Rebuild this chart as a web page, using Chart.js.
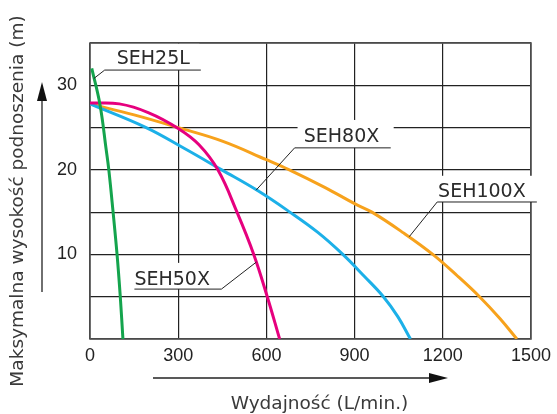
<!DOCTYPE html>
<html>
<head>
<meta charset="utf-8">
<script src="https://cdn.jsdelivr.net/npm/chart.js@4.4.1/dist/chart.umd.min.js"></script>
<style>
    html, body { margin: 0; padding: 0; background: #fff; }
    #wrap { width: 557px; height: 414px; }
</style>
</head>
<body>
<div id="wrap"><canvas id="chart" width="557" height="414"></canvas></div>
<script>
// wartości: wydajność (L/min.) i wysokość podnoszenia (m)
const seriesNames = ['SEH25L', 'SEH50X', 'SEH80X', 'SEH100X'];

const seh25lFlow = [6, 34, 55, 64, 78, 92, 103, 112];
const seh25lHead = [32, 27.7, 22.4, 20, 15.2, 10, 5, 0];

const seh50xFlow = [0, 100, 200, 300, 370, 435, 500, 557, 603, 645];
const seh50xHead = [27.9, 27.8, 26.75, 24.9, 23.0, 20, 15, 10, 5, 0];

const seh80xFlow = [0, 191, 320, 448, 570, 680, 775, 860, 932, 998, 1047, 1090];
const seh80xHead = [27.8, 25, 22.55, 20, 17.55, 15, 12.6, 10, 7.45, 5, 2.65, 0];

const seh100xFlow = [0, 150, 300, 450, 600, 678, 800, 900, 959, 1066, 1166, 1250, 1325, 1395, 1452];
const seh100xHead = [27.8, 26.5, 25.0, 23.4, 21.2, 20, 17.9, 16.0, 15, 12.55, 10, 7.45, 5, 2.4, 0];

const flowTickLabels = ['0', '300', '600', '900', '1200', '1500'];
const headTickLabels = ['10', '20', '30'];

const seriesColors = ['#14a44d', '#e6007e', '#1cb0e8', '#f7a21c'];

// opisy krzywych (w jednostkach osi): tekst, linia odniesienia, białe tło
const callouts = [
    { text: seriesNames[0], at: [91, 33.1], leader: [[13, 30.8], [50, 31.8], [377, 31.8]], box: [67, 372, 31.8, 34.9] },
    { text: seriesNames[1], at: [151, 7.0], leader: [[566, 9.1], [447, 5.9], [151, 5.9]], box: [135, 444, 5.9, 9.0] },
    { text: seriesNames[2], at: [727, 23.9], leader: [[565, 17.6], [696, 22.6], [1023, 22.6]], box: [706, 1033, 22.6, 25.9] },
    { text: seriesNames[3], at: [1184, 17.4], leader: [[1086, 12.1], [1181, 16.2], [1520, 16.2]], box: [1150, 1530, 16.2, 19.3] }
];

function toPoints(xs, ys) {
    return xs.map((x, i) => ({ x: x, y: ys[i] }));
}

const calloutPlugin = {
    id: 'callouts',
    beforeDatasetsDraw(chart) {
        const ctx = chart.ctx;
        const xs = chart.scales.x;
        const ys = chart.scales.y;
        const a = chart.chartArea;
        ctx.save();
        // ramka wykresu
        ctx.strokeStyle = '#555';
        ctx.lineWidth = 1.6;
        ctx.strokeRect(a.left, a.top, a.right - a.left, a.bottom - a.top);
        // białe tło pod opisami
        ctx.fillStyle = '#fff';
        callouts.forEach(c => {
            const x1 = xs.getPixelForValue(c.box[0]);
            const x2 = xs.getPixelForValue(c.box[1]);
            const y1 = ys.getPixelForValue(c.box[3]);
            const y2 = ys.getPixelForValue(c.box[2]);
            ctx.fillRect(x1, y1, x2 - x1, y2 - y1);
        });
        ctx.restore();
    },
    afterDatasetsDraw(chart) {
        const ctx = chart.ctx;
        const xs = chart.scales.x;
        const ys = chart.scales.y;
        ctx.save();
        ctx.strokeStyle = '#222';
        ctx.lineWidth = 1;
        ctx.fillStyle = '#2b2b2b';
        ctx.font = '19px "DejaVu Sans", sans-serif';
        ctx.textBaseline = 'middle';
        callouts.forEach(c => {
            ctx.beginPath();
            c.leader.forEach((p, i) => {
                const px = xs.getPixelForValue(p[0]);
                const py = ys.getPixelForValue(p[1]);
                if (i === 0) ctx.moveTo(px, py); else ctx.lineTo(px, py);
            });
            ctx.stroke();
            ctx.fillText(c.text, xs.getPixelForValue(c.at[0]), ys.getPixelForValue(c.at[1]));
        });
        ctx.restore();
    },
    afterDraw(chart) {
        const ctx = chart.ctx;
        const a = chart.chartArea;
        ctx.save();
        ctx.fillStyle = '#3a3a3a';
        ctx.strokeStyle = '#222';
        ctx.font = '18.5px "DejaVu Sans", sans-serif';
        ctx.textAlign = 'center';
        ctx.textBaseline = 'middle';

        // tytuł osi Y
        ctx.save();
        ctx.translate(a.left - 72, a.top + 158);
        ctx.rotate(-Math.PI / 2);
        ctx.fillText('Maksymalna wysokość podnoszenia (m)', 0, 0);
        ctx.restore();

        // tytuł osi X
        ctx.fillText('Wydajność (L/min.)', (a.left + a.right) / 2 + 9, a.bottom + 65);

        // strzałka pionowa
        ctx.lineWidth = 1.3;
        ctx.fillStyle = '#111';
        const ax = a.left - 48;
        ctx.beginPath();
        ctx.moveTo(ax, a.bottom - 47);
        ctx.lineTo(ax, a.top + 55);
        ctx.stroke();
        ctx.beginPath();
        ctx.moveTo(ax, a.top + 39);
        ctx.lineTo(ax - 5, a.top + 58);
        ctx.lineTo(ax + 5, a.top + 58);
        ctx.closePath();
        ctx.fill();

        // strzałka pozioma
        const ay = a.bottom + 39;
        ctx.beginPath();
        ctx.moveTo(a.left + 63, ay);
        ctx.lineTo(a.right - 100, ay);
        ctx.stroke();
        ctx.beginPath();
        ctx.moveTo(a.right - 83, ay);
        ctx.lineTo(a.right - 102, ay - 5);
        ctx.lineTo(a.right - 102, ay + 5);
        ctx.closePath();
        ctx.fill();
        ctx.restore();
    }
};

const curves = [
    { label: seriesNames[0], data: toPoints(seh25lFlow, seh25lHead), borderColor: seriesColors[0] },
    { label: seriesNames[1], data: toPoints(seh50xFlow, seh50xHead), borderColor: seriesColors[1] },
    { label: seriesNames[2], data: toPoints(seh80xFlow, seh80xHead), borderColor: seriesColors[2] },
    { label: seriesNames[3], data: toPoints(seh100xFlow, seh100xHead), borderColor: seriesColors[3] }
];

new Chart(document.getElementById('chart').getContext('2d'), {
    type: 'line',
    data: {
        datasets: curves.map(c => ({
            label: c.label,
            data: c.data,
            borderColor: c.borderColor,
            borderWidth: 3,
            pointRadius: 0,
            fill: false,
            tension: 0.4
        }))
    },
    options: {
        responsive: false,
        animation: false,
        layout: { padding: { top: 43, right: 21, left: 0, bottom: 0 } },
        plugins: {
            legend: { display: false },
            tooltip: { enabled: false }
        },
        scales: {
            x: {
                type: 'linear',
                min: 0,
                max: 1500,
                afterFit: scale => { scale.height = 75; },
                ticks: {
                    stepSize: 300,
                    padding: 6,
                    color: '#222',
                    font: { family: '"Liberation Sans", Arial, sans-serif', size: 18 },
                    callback: v => flowTickLabels.includes(String(v)) ? String(v) : ''
                },
                grid: { color: '#222', lineWidth: 1.2, drawTicks: false },
                border: { display: false }
            },
            y: {
                min: 0,
                max: 35,
                afterFit: scale => { scale.width = 90; },
                ticks: {
                    stepSize: 5,
                    padding: 13,
                    color: '#222',
                    font: { family: '"Liberation Sans", Arial, sans-serif', size: 18 },
                    callback: v => headTickLabels.includes(String(v)) ? String(v) : ''
                },
                grid: { color: '#222', lineWidth: 1.2, drawTicks: false },
                border: { display: false }
            }
        }
    },
    plugins: [calloutPlugin]
});
</script>
</body>
</html>
